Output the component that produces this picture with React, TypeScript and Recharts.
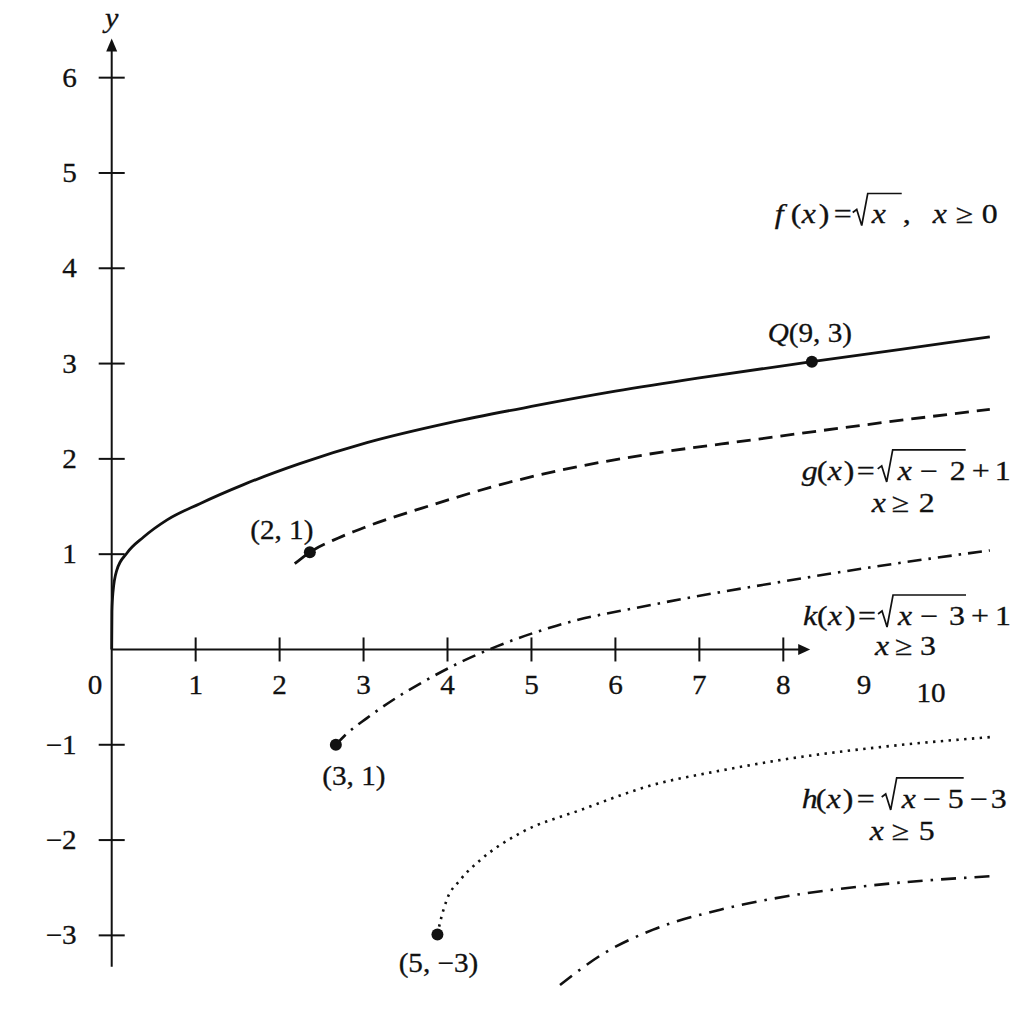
import React from "react";
import {
  ComposedChart,
  Line,
  XAxis,
  YAxis,
  ReferenceLine,
  ReferenceDot,
} from "recharts";

// curves, [x, y] in graph units
const fCurve = [
  [0, 0], [0.003, 0.4], [0.015, 0.6], [0.06, 0.83], [0.18, 1.01], [0.38, 1.18],
  [0.66, 1.36], [1.05, 1.53], [1.57, 1.73], [2.24, 1.95], [3.04, 2.17], [4.03, 2.38],
  [5.0, 2.55], [6.0, 2.71], [7.0, 2.85], [8.34, 3.02], [9.4, 3.15], [10.46, 3.28],
];
const gCurve = [
  [2.18, 0.9], [2.36, 1.02], [2.7, 1.17], [3.04, 1.29], [3.83, 1.52], [4.63, 1.73],
  [5.34, 1.88], [6.4, 2.05], [7.64, 2.2], [9.0, 2.36], [10.46, 2.52],
];
const kCurve = [
  [2.67, -1.0], [2.78, -0.9], [3.04, -0.72], [3.35, -0.53], [3.71, -0.34], [4.07, -0.17],
  [4.58, 0.03], [5.3, 0.25], [6.5, 0.48], [7.84, 0.69], [9.1, 0.87], [10.46, 1.04],
];
const hCurve = [
  [3.88, -2.99], [3.91, -2.87], [3.99, -2.63], [4.15, -2.42], [4.39, -2.21], [4.86, -1.93],
  [5.6, -1.68], [6.45, -1.42], [7.2, -1.28], [8.04, -1.15], [9.2, -1.02], [10.46, -0.92],
];
const lowCurve = [
  [5.34, -3.52], [5.86, -3.19], [6.45, -2.94], [7.25, -2.73], [8.04, -2.59],
  [9.23, -2.46], [10.46, -2.38],
];

const xTicks = [1, 2, 3, 4, 5, 6, 7, 8];
const xTickLabels = ["1", "2", "3", "4", "5", "6", "7", "8"];
const yTicks = [-3, -2, -1, 1, 2, 3, 4, 5, 6];
const yTickLabels = ["\u22123", "\u22122", "\u22121", "1", "2", "3", "4", "5", "6"];
const strayXLabels = ["0", "9", "10"];

const markedPoints = [
  { x: 2.36, y: 1.02 },
  { x: 8.34, y: 3.02 },
  { x: 2.67, y: -1.0 },
  { x: 3.88, y: -2.99 },
];
const pointLabels = ["(2, 1)", "Q(9, 3)", "(3, 1)", "(5, \u22123)"];

// layout
const SERIF = '"Liberation Serif", "Times New Roman", Times, serif';
const INK = "#111";
const X_DOMAIN = [-1.3306, 10.867];
const Y_DOMAIN = [-3.93, 6.815];
const X_AXIS_END = 8.32;
const Y_AXIS_TOP = 6.41;
const Y_AXIS_BOTTOM = -3.33;
const strayXAt = [
  { x: -0.2, dy: 45 },
  { x: 8.96, dy: 45 },
  { x: 9.76, dy: 53 },
];
const pointLabelOffset = [
  { dx: -28, dy: -13 },
  { dx: -2, dy: -20 },
  { dx: 18, dy: 40 },
  { dx: 1, dy: 38 },
];

const toRows = (pts: number[][]) => pts.map(([x, y]) => ({ x, y }));

// the picture's lettering is a touch wider than Liberation Serif
const Glyphs: React.FC<{
  x: number;
  y: number;
  size?: number;
  sx?: number;
  anchor?: "start" | "middle" | "end";
  italic?: boolean;
  children: React.ReactNode;
}> = ({ x, y, size = 27, sx = 1.08, anchor = "start", italic = false, children }) => (
  <text
    transform={`translate(${x} ${y}) scale(${sx} 1)`}
    textAnchor={anchor}
    fontFamily={SERIF}
    fontSize={size}
    fontStyle={italic ? "italic" : "normal"}
    fill={INK}
    stroke={INK}
    strokeWidth={0.3}
  >
    {children}
  </text>
);

type Tok = [string, number, boolean?];

type FormulaSpec = {
  at: { x: number; y: number };
  toks: Tok[];
  radical: [number, number];
  second?: { dy: number; toks: Tok[] };
};

const formulas: FormulaSpec[] = [
  {
    at: { x: 7.862, y: 4.47 },
    toks: [
      ["f", 3, true], ["(", 19], ["x", 30, true], [")", 47], ["=", 62],
      ["x", 100, true], [",", 131], ["x", 161, true], ["\u2265", 184], ["0", 210],
    ],
    radical: [81, 130],
  },
  {
    at: { x: 8.219, y: 1.779 },
    toks: [
      ["g", 0, true], ["(", 15], ["x", 26, true], [")", 42], ["=", 55],
      ["x", 96, true], ["\u2212", 118], ["2", 148], ["+", 170], ["1", 193],
    ],
    radical: [76, 164],
    second: { dy: 32, toks: [["x", 70, true], ["\u2265", 90], ["2", 117]] },
  },
  {
    at: { x: 8.235, y: 0.257 },
    toks: [
      ["k", 0, true], ["(", 14], ["x", 25, true], [")", 42], ["=", 55],
      ["x", 95, true], ["\u2212", 117], ["3", 146], ["+", 168], ["1", 192],
    ],
    radical: [75, 163],
    second: { dy: 30, toks: [["x", 72, true], ["\u2265", 92], ["3", 117]] },
  },
  {
    at: { x: 8.219, y: -1.663 },
    toks: [
      ["h", 0, true], ["(", 14], ["x", 25, true], [")", 41], ["=", 55],
      ["x", 100, true], ["\u2212", 121], ["5", 146], ["\u2212", 168], ["3", 189],
    ],
    radical: [80, 162],
    second: { dy: 32, toks: [["x", 68, true], ["\u2265", 90], ["5", 117]] },
  },
];

const tokRow = (cx: number, cy: number, toks: Tok[], key: string) =>
  toks.map(([t, dx, it], i) => (
    <Glyphs key={`${key}${i}`} x={cx + dx} y={cy} size={27} sx={1.18} italic={!!it}>
      {t}
    </Glyphs>
  ));

const renderFormula = (spec: FormulaSpec) => (p: any) => {
  const { cx, cy } = p;
  const [r0, r1] = spec.radical;
  return (
    <g>
      {tokRow(cx, cy, spec.toks, "a")}
      <path
        d={`M${cx + r0} ${cy - 11} L${cx + r0 + 4} ${cy - 14} L${cx + r0 + 9} ${cy + 2} L${cx + r0 + 15} ${cy - 30} L${cx + r1} ${cy - 30}`}
        fill="none"
        stroke={INK}
        strokeWidth={1.7}
      />
      {spec.second && tokRow(cx, cy + spec.second.dy, spec.second.toks, "b")}
    </g>
  );
};

const curveProps = {
  dataKey: "y",
  type: "monotone" as const,
  stroke: INK,
  dot: false,
  activeDot: false,
  isAnimationActive: false,
};

const App: React.FC = () => {
  return (
    <div style={{ position: "absolute", left: 0, top: 0, background: "#fff" }}>
      <ComposedChart width={1024} height={1024} margin={{ top: 0, right: 0, bottom: 0, left: 0 }}>
        <XAxis type="number" dataKey="x" domain={X_DOMAIN} allowDataOverflow hide />
        <YAxis type="number" dataKey="y" domain={Y_DOMAIN} allowDataOverflow hide />

        {/* axes through the origin */}
        <ReferenceLine segment={[{ x: 0, y: 0 }, { x: X_AXIS_END - 0.05, y: 0 }]} stroke={INK} strokeWidth={2} />
        <ReferenceLine segment={[{ x: 0, y: Y_AXIS_BOTTOM }, { x: 0, y: Y_AXIS_TOP - 0.05 }]} stroke={INK} strokeWidth={2} />
        <ReferenceDot
          x={X_AXIS_END}
          y={0}
          shape={(p: any) => (
            <polygon points={`${p.cx},${p.cy} ${p.cx - 12},${p.cy - 5.5} ${p.cx - 12},${p.cy + 5.5}`} fill={INK} />
          )}
        />
        <ReferenceDot
          x={0}
          y={Y_AXIS_TOP}
          shape={(p: any) => (
            <g>
              <polygon points={`${p.cx},${p.cy} ${p.cx - 5.5},${p.cy + 13} ${p.cx + 5.5},${p.cy + 13}`} fill={INK} />
              <Glyphs x={p.cx} y={p.cy - 12} size={28} anchor="middle" italic>
                y
              </Glyphs>
            </g>
          )}
        />

        {xTicks.map((v) => (
          <ReferenceLine key={`xt${v}`} segment={[{ x: v, y: -0.126 }, { x: v, y: 0.126 }]} stroke={INK} strokeWidth={2} />
        ))}
        {yTicks.map((v) => (
          <ReferenceLine key={`yt${v}`} segment={[{ x: -0.155, y: v }, { x: 0.155, y: v }]} stroke={INK} strokeWidth={2} />
        ))}
        {xTicks.map((v, i) => (
          <ReferenceDot
            key={`xl${v}`}
            x={v}
            y={0}
            shape={(p: any) => (
              <Glyphs x={p.cx} y={p.cy + 45} anchor="middle">
                {xTickLabels[i]}
              </Glyphs>
            )}
          />
        ))}
        {strayXLabels.map((t, i) => (
          <ReferenceDot
            key={`xs${t}`}
            x={strayXAt[i].x}
            y={0}
            shape={(p: any) => (
              <Glyphs x={p.cx} y={p.cy + strayXAt[i].dy} anchor="middle">
                {t}
              </Glyphs>
            )}
          />
        ))}
        {yTicks.map((v, i) => (
          <ReferenceDot
            key={`yl${v}`}
            x={0}
            y={v}
            shape={(p: any) => (
              <Glyphs x={p.cx - 35} y={p.cy + 9} anchor="end">
                {yTickLabels[i]}
              </Glyphs>
            )}
          />
        ))}

        <Line {...curveProps} data={toRows(fCurve)} strokeWidth={2.8} />
        <Line {...curveProps} data={toRows(gCurve)} strokeWidth={2.8} strokeDasharray="14 8" />
        <Line {...curveProps} data={toRows(kCurve)} strokeWidth={2.6} strokeDasharray="14 7 2.5 7" />
        <Line {...curveProps} data={toRows(hCurve)} strokeWidth={2.6} strokeDasharray="2.4 5.4" />
        <Line {...curveProps} data={toRows(lowCurve)} strokeWidth={2.6} strokeDasharray="15 8 2.5 8" />

        {markedPoints.map((pt, i) => (
          <ReferenceDot
            key={`pt${i}`}
            x={pt.x}
            y={pt.y}
            shape={(p: any) => {
              const label = pointLabels[i];
              const lead = /^[A-Za-z]/.test(label) ? label[0] : "";
              return (
                <g>
                  <circle cx={p.cx} cy={p.cy} r={6} fill={INK} />
                  <Glyphs x={p.cx + pointLabelOffset[i].dx} y={p.cy + pointLabelOffset[i].dy} anchor="middle">
                    {lead && <tspan fontStyle="italic">{lead}</tspan>}
                    {label.slice(lead.length)}
                  </Glyphs>
                </g>
              );
            }}
          />
        ))}

        {formulas.map((f, i) => (
          <ReferenceDot key={`fm${i}`} x={f.at.x} y={f.at.y} shape={renderFormula(f)} />
        ))}
      </ComposedChart>
    </div>
  );
};

export default App;
